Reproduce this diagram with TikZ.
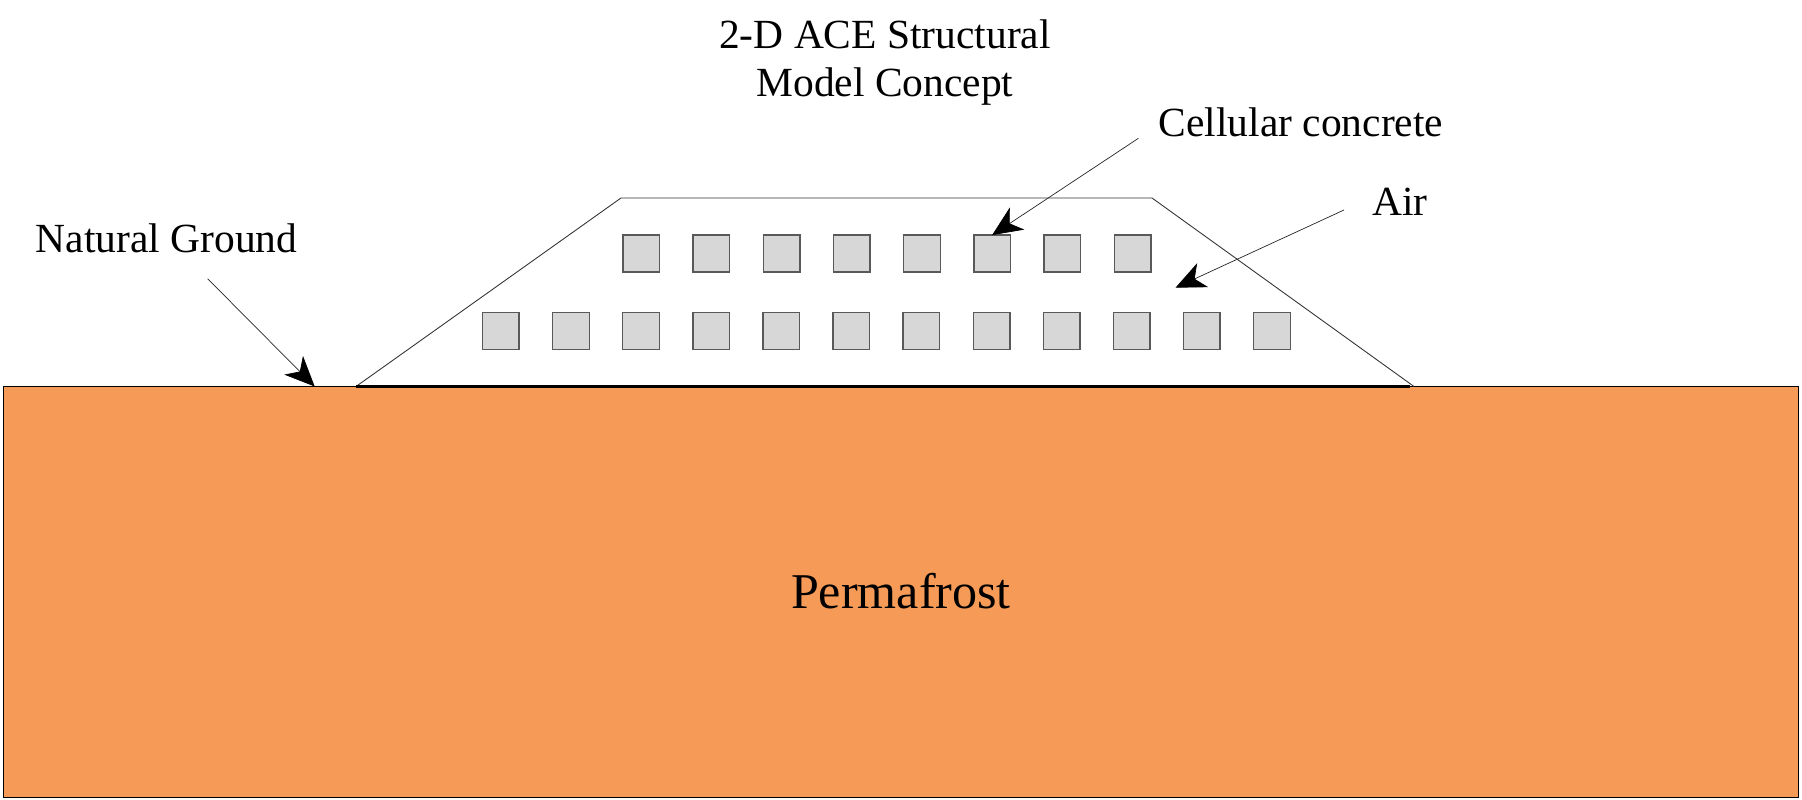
\documentclass[tikz,border=0pt]{standalone}
\usepackage{fontspec}
\setmainfont{Liberation Serif}
\usepackage{tikz}
\usetikzlibrary{arrows.meta,positioning}
\definecolor{frozen}{RGB}{245,155,87}
\definecolor{concrete}{RGB}{215,215,215}

\begin{document}
\begin{tikzpicture}[x=0.02cm,y=-0.02cm,
		label text/.style={inner sep=0pt,align=center,font=\fontsize{23.6}{27.6}\selectfont},
		cell/.style={draw=black!65,fill=concrete,line width=0.8pt,minimum width=0.732cm,minimum height=0.74cm,inner sep=0pt,outer sep=0pt},
		pointer/.style={draw=black!85,line width=0.4pt,-{Stealth[length=17pt,width=15pt,inset=5pt,black]}}]

		\useasboundingbox (0,0) rectangle (1802,800);

		\node [draw=black,fill=frozen,line width=0.8pt,minimum width=35.91cm,minimum height=8.23cm,inner sep=0pt,outer sep=0pt,font=\fontsize{28.5}{34}\selectfont] (ground) at (901,592) {\raisebox{1.2pt}{Permafrost}};

		\coordinate (toeleft) at (356,386.5);
		\coordinate (crestleft) at (621,198);
		\coordinate (crestright) at (1152,198);
		\coordinate (toeright) at (1414,386.5);
		\draw [draw=black!80,line width=0.5pt] (toeleft) -- (crestleft) -- (crestright) -- (toeright);
		\draw [line width=1.2pt] (toeleft) -- (1410,386.5);

		\foreach \i in {1,...,8}
			\node [cell] (upper\i) at ({641.1+70.2*(\i-1)},253.6) {};
		\foreach \i in {1,...,12}
			\node [cell] (lower\i) at ({500.8+70.1*(\i-1)},330.8) {};

		\node [label text] (title) at (885,62.5) {2-D ACE Structural\\Model Concept};
		\node [label text] (natural) at (166.5,238) {Natural Ground};
		\node [label text] (cellular) at (1301,122) {Cellular concrete};
		\node [label text] (air) at (1400,202) {Air};

		\coordinate (naturaltail) at (207.6,278.7);
		\coordinate (naturaltip) at (314.7,386.5);
		\coordinate (cellulartail) at (1138.4,138.3);
		\coordinate (airtail) at (1344,210);
		\coordinate (airtip) at (1175.5,287.7);

		\draw [pointer] (naturaltail) -- (naturaltip);
		\draw [pointer] (cellulartail) -- (upper6.north);
		\draw [pointer] (airtail) -- (airtip);

\end{tikzpicture}
\end{document}
